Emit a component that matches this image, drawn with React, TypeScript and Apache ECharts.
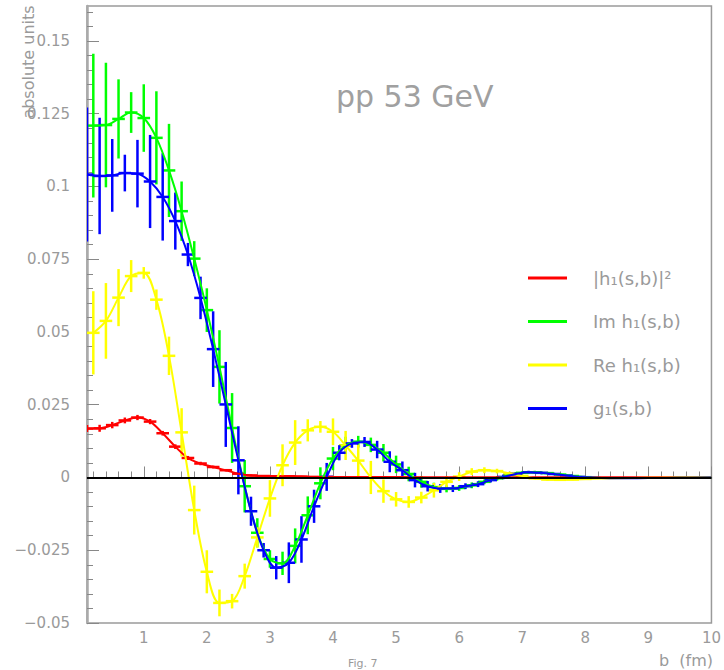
import React, { useEffect, useRef } from 'react';
import * as echarts from 'echarts';

// ---------- data ----------
const redX = [0.1, 0.3, 0.5, 0.7, 0.9, 1.1, 1.3, 1.5, 1.7, 1.9, 2.1, 2.3, 2.5, 2.7, 2.9, 3.1, 3.3, 3.5, 3.7, 3.9];
const redY = [0.0168, 0.0169, 0.018, 0.0196, 0.0206, 0.0192, 0.0152, 0.0106, 0.0067, 0.0048, 0.0036, 0.0025, 0.0013, 0.0007, 0.0005, 0.0004, 0.0004, 0.0003, 0.0002, 0.0002];
const redErr = [0.0012, 0.0012, 0.0011, 0.001, 0.0009, 0.0009, 0.0008, 0.0008, 0.0007, 0.0006, 0.0005, 0.0004, 0.0004, 0.0003, 0.0003, 0.0002, 0.0002, 0.0002, 0.0002, 0.0002];
const redTailX = [4.5, 5.5, 6.5, 7.5, 8.5, 9.5, 10];
const redTailY = [0.0002, 0.0001, 0.0001, 0.0001, 0.0001, 0.0001, 0.0001];

const evenX = [0.2, 0.4, 0.6, 0.8, 1.0, 1.2, 1.4, 1.6, 1.8, 2.0, 2.2, 2.4, 2.6, 2.8, 3.0, 3.2, 3.4, 3.6, 3.8, 4.0, 4.2, 4.4, 4.6, 4.8, 5.0, 5.2, 5.4, 5.6, 5.8, 6.0, 6.2, 6.4, 6.6, 6.8, 7.0, 7.2, 7.4, 7.6, 7.8, 8.0];
const oddX = [0.1, 0.3, 0.5, 0.7, 0.9, 1.1, 1.3, 1.5, 1.7, 1.9, 2.1, 2.3, 2.5, 2.7, 2.9, 3.1, 3.3, 3.5, 3.7, 3.9, 4.1, 4.3, 4.5, 4.7, 4.9, 5.1, 5.3, 5.5, 5.7, 5.9, 6.1, 6.3, 6.5, 6.7, 6.9, 7.1, 7.3, 7.5, 7.7, 7.9];

const greenY = [0.1209, 0.1211, 0.1232, 0.1254, 0.1235, 0.1167, 0.1055, 0.0915, 0.0752, 0.0575, 0.038, 0.017, -0.003, -0.019, -0.028, -0.0295, -0.0235, -0.013, -0.002, 0.0065, 0.011, 0.0123, 0.0112, 0.0085, 0.0045, 0.0012, -0.0015, -0.0033, -0.0039, -0.0036, -0.0027, -0.0015, -0.0003, 0.0009, 0.0016, 0.0018, 0.0015, 0.001, 0.0005, 0.0001];
const greenErr = [0.0247, 0.0214, 0.0136, 0.007, 0.0116, 0.016, 0.016, 0.0102, 0.006, 0.0075, 0.0126, 0.012, 0.009, 0.005, 0.003, 0.004, 0.006, 0.0065, 0.0055, 0.004, 0.003, 0.002, 0.0025, 0.003, 0.003, 0.0025, 0.002, 0.0015, 0.0012, 0.001, 0.001, 0.0008, 0.0008, 0.0006, 0.0005, 0.0005, 0.0004, 0.0004, 0.0003, 0.0003];
const greenTailX = [8.5, 9, 9.5, 10];
const greenTailY = [-0.0002, -0.0002, -0.0001, 0];

const yellowY = [0.0497, 0.0538, 0.0618, 0.0692, 0.0703, 0.0611, 0.0418, 0.0155, -0.0112, -0.0324, -0.0431, -0.0425, -0.0339, -0.0206, -0.0072, 0.0042, 0.012, 0.0162, 0.0174, 0.0157, 0.011, 0.0058, 0.0, -0.0047, -0.0075, -0.0084, -0.0069, -0.0044, -0.0015, 0.0003, 0.002, 0.0025, 0.0022, 0.0014, 0.0005, -0.0003, -0.0007, -0.0008, -0.0007, -0.0005];
const yellowErr = [0.0143, 0.013, 0.0098, 0.0055, 0.002, 0.0035, 0.0066, 0.0083, 0.0084, 0.0074, 0.0046, 0.0025, 0.0043, 0.0035, 0.0063, 0.0072, 0.0077, 0.0038, 0.002, 0.0046, 0.005, 0.0055, 0.0057, 0.004, 0.0025, 0.002, 0.002, 0.0025, 0.002, 0.0015, 0.0012, 0.001, 0.0008, 0.0006, 0.0005, 0.0004, 0.0004, 0.0003, 0.0003, 0.0003];
const yellowTailX = [8.5, 9, 9.5, 10];
const yellowTailY = [-0.0003, -0.0001, 0, 0];

const blueY = [0.1041, 0.1036, 0.1038, 0.1046, 0.1044, 0.1017, 0.0964, 0.0881, 0.0766, 0.0617, 0.0441, 0.0251, 0.0059, -0.0116, -0.025, -0.031, -0.0293, -0.0213, -0.0099, 0.0002, 0.0085, 0.0117, 0.0122, 0.0096, 0.0054, 0.0025, -0.0009, -0.003, -0.0038, -0.0038, -0.003, -0.0023, -0.0009, 0.0002, 0.0012, 0.0018, 0.0016, 0.0012, 0.0007, 0.0002];
const blueErr = [0.023, 0.02, 0.0125, 0.0063, 0.0116, 0.016, 0.015, 0.0098, 0.004, 0.0073, 0.013, 0.0146, 0.0117, 0.005, 0.0025, 0.004, 0.007, 0.008, 0.0057, 0.0048, 0.0026, 0.0015, 0.0017, 0.003, 0.0036, 0.003, 0.0025, 0.0018, 0.0015, 0.0012, 0.001, 0.001, 0.0008, 0.0008, 0.0006, 0.0005, 0.0005, 0.0004, 0.0004, 0.0003];
const blueTailX = [8.5, 9, 9.5, 10];
const blueTailY = [-0.0003, -0.0002, -0.0001, 0];

const binHalfWidth = 0.1;

const seriesNames = ['|h₁(s,b)|²', 'Im h₁(s,b)', 'Re h₁(s,b)', 'g₁(s,b)'];
const seriesColors = ['#ff0000', '#00ff00', '#ffff00', '#0000ff'];

const xMajorTicks = [1, 2, 3, 4, 5, 6, 7, 8, 9, 10];
const yMajorTicks = [-0.05, -0.025, 0, 0.025, 0.05, 0.075, 0.1, 0.125, 0.15];

const X_MIN = 0.1;
const X_MAX = 10;
const Y_MIN = -0.05;
const Y_MAX = 0.162;

const FONT = 'DejaVu Sans';
const LABEL_GRAY = '#9a9a9a';

const xMinorTicks: number[] = [];
for (let i = 1; i <= 49; i++) xMinorTicks.push(Math.round(i * 2) / 10);
const yMinorTicks: number[] = [];
for (let i = -10; i <= 32; i++) yMinorTicks.push(Math.round(i * 5) / 1000);

function pts(xs: number[], ys: number[]) {
  return xs.map((x, i) => [x, ys[i]]);
}

function errData(xs: number[], ys: number[], es: number[]) {
  return xs.map((x, i) => [x, ys[i], es[i], binHalfWidth]);
}

function makeErrSeries(name: string, color: string, data: number[][]) {
  return {
    type: 'custom',
    name,
    data,
    clip: true,
    encode: { x: 0, y: 1 },
    renderItem: (_params: any, api: any) => {
      const x = api.value(0);
      const y = api.value(1);
      const ey = api.value(2);
      const ex = api.value(3);
      const c = api.coord([x, y]);
      const top = api.coord([x, y + ey]);
      const bot = api.coord([x, y - ey]);
      const l = api.coord([x - ex, y]);
      const r = api.coord([x + ex, y]);
      return {
        type: 'group',
        children: [
          { type: 'line', shape: { x1: c[0], y1: top[1], x2: c[0], y2: bot[1] }, style: { stroke: color, lineWidth: 2.5 } },
          { type: 'line', shape: { x1: l[0], y1: c[1], x2: r[0], y2: c[1] }, style: { stroke: color, lineWidth: 2.5 } },
        ],
      };
    },
  };
}

function makeLine(name: string, color: string, data: number[][], extra: any = {}) {
  return {
    type: 'line',
    name,
    data,
    smooth: 0.35,
    showSymbol: false,
    symbol: 'none',
    color,
    lineStyle: { color, width: 2 },
    ...extra,
  };
}

export default function App() {
  const ref = useRef<HTMLDivElement>(null);

  useEffect(() => {
    if (!ref.current) return;
    const chart = echarts.init(ref.current, undefined, { renderer: 'svg' });

    const option: any = {
      animation: false,
      backgroundColor: '#ffffff',
      title: {
        text: 'pp 53 GeV',
        left: 331,
        top: 76,
        textStyle: { fontFamily: FONT, fontSize: 30, fontWeight: 'normal', color: '#a0a0a0' },
      },
      legend: {
        orient: 'vertical',
        left: 523,
        top: 262,
        itemWidth: 39,
        itemHeight: 3,
        itemGap: 21.5,
        icon: 'rect',
        textStyle: { fontFamily: FONT, fontSize: 18, color: LABEL_GRAY, lineHeight: 22, padding: [0, 0, 0, 21] },
        data: seriesNames,
      },
      grid: {
        left: 87,
        top: 6,
        right: 11,
        bottom: 47,
        show: true,
        borderColor: '#9a9a9a',
        borderWidth: 1.5,
      },
      xAxis: [
        {
          type: 'value',
          min: X_MIN,
          max: X_MAX,
          position: 'bottom',
          splitLine: { show: false },
          axisLine: { show: true, lineStyle: { color: '#888', width: 1.5 } },
          axisTick: { show: true, inside: true, length: 11, customValues: xMajorTicks, lineStyle: { color: '#888', width: 1 } },
          axisLabel: {
            customValues: xMajorTicks,
            margin: 7,
            fontFamily: FONT,
            fontSize: 15,
            color: LABEL_GRAY,
          },
        },
        {
          type: 'value',
          min: X_MIN,
          max: X_MAX,
          position: 'bottom',
          splitLine: { show: false },
          axisLine: { show: false },
          axisTick: { show: true, inside: true, length: 6, customValues: xMinorTicks, lineStyle: { color: '#888', width: 1 } },
          axisLabel: { show: false },
        },
      ],
      yAxis: [
        {
          type: 'value',
          min: Y_MIN,
          max: Y_MAX,
          position: 'left',
          splitLine: { show: false },
          axisLine: { show: true, lineStyle: { color: '#aaaaaa', width: 2.5 } },
          axisTick: { show: true, inside: true, length: 12, customValues: yMajorTicks, lineStyle: { color: '#888', width: 1 } },
          axisLabel: {
            customValues: yMajorTicks,
            margin: 17,
            fontFamily: FONT,
            fontSize: 15,
            color: LABEL_GRAY,
            formatter: (v: number) => String(v).replace('-', '\u2212'),
          },
        },
        {
          type: 'value',
          min: Y_MIN,
          max: Y_MAX,
          position: 'left',
          splitLine: { show: false },
          axisLine: { show: false },
          axisTick: { show: true, inside: true, length: 6, customValues: yMinorTicks, lineStyle: { color: '#888', width: 1 } },
          axisLabel: { show: false },
        },
      ],
      graphic: [
        {
          type: 'text',
          x: 28,
          y: 62,
          rotation: Math.PI / 2,
          style: { text: 'absolute units', fontFamily: FONT, fontSize: 16, fill: LABEL_GRAY, textAlign: 'center', textVerticalAlign: 'middle' },
        },
        {
          type: 'text',
          x: 713,
          y: 660,
          style: { text: 'b  (fm)', fontFamily: FONT, fontSize: 16, fill: LABEL_GRAY, textAlign: 'right', textVerticalAlign: 'middle' },
        },
        {
          type: 'text',
          x: 348,
          y: 669,
          style: { text: 'Fig. 7', fontFamily: FONT, fontSize: 11, fill: LABEL_GRAY, textAlign: 'left', textVerticalAlign: 'bottom' },
        },
      ],
      series: [
        makeLine(seriesNames[0], seriesColors[0], pts(redX, redY).concat(pts(redTailX, redTailY)), {
          markLine: {
            silent: true,
            symbol: 'none',
            label: { show: false },
            lineStyle: { color: '#000000', width: 2, type: 'solid' },
            data: [{ yAxis: 0 }],
          },
        }),
        makeErrSeries(seriesNames[0], seriesColors[0], errData(redX, redY, redErr)),
        makeLine(seriesNames[1], seriesColors[1], pts(evenX, greenY).concat(pts(greenTailX, greenTailY))),
        makeErrSeries(seriesNames[1], seriesColors[1], errData(evenX, greenY, greenErr)),
        makeLine(seriesNames[2], seriesColors[2], pts(evenX, yellowY).concat(pts(yellowTailX, yellowTailY))),
        makeErrSeries(seriesNames[2], seriesColors[2], errData(evenX, yellowY, yellowErr)),
        makeLine(seriesNames[3], seriesColors[3], pts(oddX, blueY).concat(pts(blueTailX, blueTailY))),
        makeErrSeries(seriesNames[3], seriesColors[3], errData(oddX, blueY, blueErr)),
      ],
    };

    chart.setOption(option);
    return () => chart.dispose();
  }, []);

  return <div ref={ref} style={{ position: 'absolute', left: 0, top: 0, width: 724, height: 670 }} />;
}
